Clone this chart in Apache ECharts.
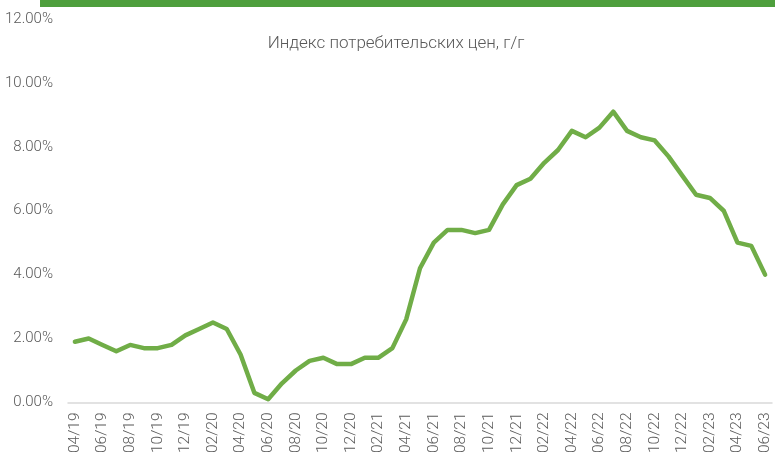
<!DOCTYPE html>
<html lang="ru">
<head>
  <meta charset="UTF-8">
  <script src="https://cdn.jsdelivr.net/npm/echarts@6/dist/echarts.min.js"></script>
  <style>
    html, body { margin: 0; padding: 0; background: #fff; }
    #container { width: 775px; height: 456px; }
  </style>
</head>
<body>
  <div id="container"></div>
  <script>
    // месяцы 04/19 .. 06/23
    var months = [
      '04/19', '05/19', '06/19', '07/19', '08/19', '09/19', '10/19', '11/19', '12/19',
      '01/20', '02/20', '03/20', '04/20', '05/20', '06/20', '07/20', '08/20', '09/20', '10/20', '11/20', '12/20',
      '01/21', '02/21', '03/21', '04/21', '05/21', '06/21', '07/21', '08/21', '09/21', '10/21', '11/21', '12/21',
      '01/22', '02/22', '03/22', '04/22', '05/22', '06/22', '07/22', '08/22', '09/22', '10/22', '11/22', '12/22',
      '01/23', '02/23', '03/23', '04/23', '05/23', '06/23'
    ];
    // ИПЦ, г/г, %
    var cpi = [
      1.9, 2.0, 1.8, 1.6, 1.8, 1.7, 1.7, 1.8, 2.1,
      2.3, 2.5, 2.3, 1.5, 0.3, 0.1, 0.6, 1.0, 1.3, 1.4, 1.2, 1.2,
      1.4, 1.4, 1.7, 2.6, 4.2, 5.0, 5.4, 5.4, 5.3, 5.4, 6.2, 6.8,
      7.0, 7.5, 7.9, 8.5, 8.3, 8.6, 9.1, 8.5, 8.3, 8.2, 7.7, 7.1,
      6.5, 6.4, 6.0, 5.0, 4.9, 4.0
    ];
    var title = 'Индекс потребительских цен, г/г';

    var myChart = echarts.init(document.getElementById('container'));
    var font = 'Roboto, "Liberation Sans", sans-serif';
    var option = {
      animation: false,
      textStyle: { fontFamily: font },
      title: {
        text: title,
        left: 391,
        top: 30,
        textAlign: 'center',
        textStyle: { fontSize: 17, fontWeight: 300, color: '#595959', fontFamily: font }
      },
      graphic: [
        { type: 'rect', left: 40, top: 0, shape: { width: 735, height: 7 }, style: { fill: '#4e9f3d' } }
      ],
      grid: { left: 68, right: 3, top: 19, bottom: 46 },
      xAxis: {
        type: 'category',
        data: months,
        boundaryGap: true,
        axisLine: { lineStyle: { color: '#d9d9d9', width: 1.5 } },
        axisTick: { interval: 1, length: 5, lineStyle: { color: '#d9d9d9', width: 1.5 } },
        axisLabel: {
          interval: 1,
          rotate: 90,
          margin: 10,
          fontSize: 15.5,
          fontWeight: 300,
          color: '#595959'
        }
      },
      yAxis: {
        type: 'value',
        min: 0,
        max: 12,
        interval: 2,
        axisLine: { show: false },
        axisTick: { show: false },
        splitLine: { show: false },
        axisLabel: {
          margin: 15,
          fontSize: 15,
          fontWeight: 300,
          color: '#595959',
          formatter: function (v) { return v.toFixed(2) + '%'; }
        }
      },
      series: [{
        type: 'line',
        data: cpi,
        showSymbol: false,
        lineStyle: { color: '#70ad47', width: 4.5, join: 'round', cap: 'round' }
      }]
    };
    myChart.setOption(option);
  </script>
</body>
</html>
